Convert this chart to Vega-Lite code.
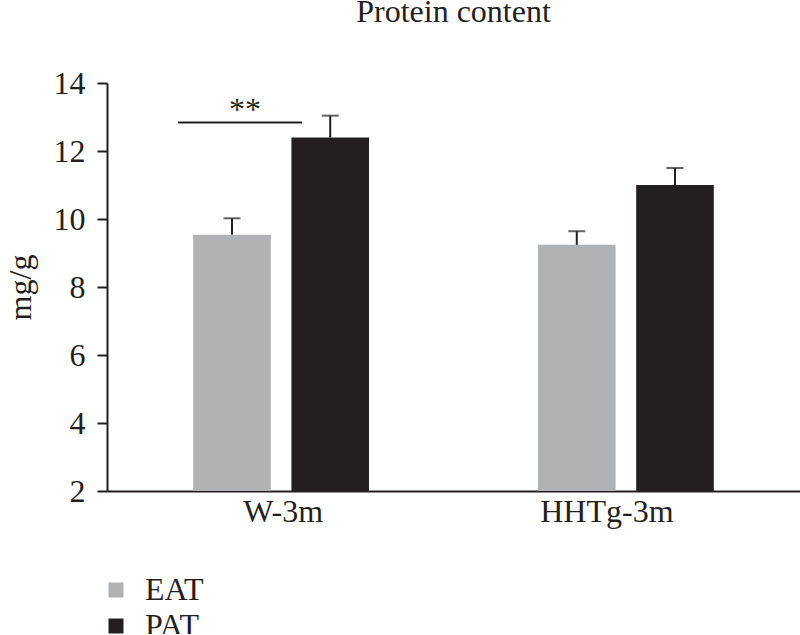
{
  "$schema": "https://vega.github.io/schema/vega-lite/v6.json",
  "width": 693,
  "height": 408,
  "autosize": {"type": "none"},
  "padding": {"left": 107, "top": 83, "right": 0, "bottom": 143},
  "background": "white",
  "title": {
    "text": "Protein content",
    "font": "Liberation Serif",
    "fontSize": 32,
    "fontWeight": "normal",
    "color": "#231f20",
    "anchor": "middle",
    "baseline": "alphabetic",
    "offset": 13
  },
  "config": {
    "view": {"stroke": null},
    "font": "Liberation Serif",
    "axis": {
      "labelFont": "Liberation Serif",
      "labelFontSize": 32,
      "labelColor": "#231f20",
      "domainColor": "#231f20",
      "tickColor": "#231f20",
      "titleFont": "Liberation Serif",
      "titleFontSize": 32,
      "titleFontWeight": "normal",
      "titleColor": "#231f20",
      "grid": false
    },
    "legend": {
      "labelFont": "Liberation Serif",
      "labelFontSize": 32,
      "labelColor": "#231f20"
    }
  },
  "datasets": {
    "bars": [
      {"group": "W-3m", "tissue": "EAT", "value": 9.54, "upper": 10.02},
      {"group": "W-3m", "tissue": "PAT", "value": 12.4, "upper": 13.04},
      {"group": "HHTg-3m", "tissue": "EAT", "value": 9.24, "upper": 9.64},
      {"group": "HHTg-3m", "tissue": "PAT", "value": 11.0, "upper": 11.5}
    ],
    "sig": [
      {"x1": 0.205, "x2": 0.563, "y": 12.84, "label": "**", "xl": 0.398, "yl": 12.92}
    ]
  },
  "resolve": {"scale": {"x": "independent"}, "axis": {"x": "independent"}},
  "layer": [
    {
      "data": {"name": "bars"},
      "layer": [
        {
          "mark": {"type": "bar"},
          "encoding": {
            "x": {
              "field": "group",
              "type": "nominal",
              "sort": ["W-3m", "HHTg-3m"],
              "scale": {"paddingInner": 0.49, "paddingOuter": 0.25},
              "axis": {
                "title": null,
                "labelAngle": 0,
                "ticks": false,
                "domainWidth": 2,
                "labelPadding": 5,
                "labelOffset": {"condition": {"test": "datum.value === 'HHTg-3m'", "value": -19}, "value": 2}
              }
            },
            "xOffset": {
              "field": "tissue",
              "type": "nominal",
              "sort": ["EAT", "PAT"],
              "scale": {"paddingInner": 0.21, "paddingOuter": 0}
            },
            "y": {
              "field": "value",
              "type": "quantitative",
              "scale": {"domain": [2, 14], "nice": false, "zero": false},
              "axis": {
                "values": [2, 4, 6, 8, 10, 12, 14],
                "title": "mg/g",
                "domainWidth": 2,
                "tickWidth": 2,
                "tickSize": 10,
                "labelPadding": 12,
                "titlePadding": 16
              }
            },
            "y2": {"datum": 2},
            "color": {
              "field": "tissue",
              "type": "nominal",
              "scale": {"domain": ["EAT", "PAT"], "range": ["#b1b2b4", "#231f20"]},
              "legend": {
                "title": null,
                "orient": "none",
                "legendX": -7,
                "legendY": 491,
                "direction": "vertical",
                "symbolType": "square",
                "symbolSize": 225,
                "symbolStrokeWidth": 0,
                "labelOffset": 13,
                "rowPadding": 4,
                "padding": 0
              }
            }
          }
        },
        {
          "mark": {"type": "rule", "color": "#231f20", "strokeWidth": 2},
          "encoding": {
            "x": {"field": "group", "type": "nominal", "sort": ["W-3m", "HHTg-3m"]},
            "xOffset": {"field": "tissue", "type": "nominal", "sort": ["EAT", "PAT"]},
            "y": {"field": "value", "type": "quantitative"},
            "y2": {"field": "upper"}
          }
        },
        {
          "mark": {"type": "tick", "color": "#231f20", "thickness": 2, "size": 17, "orient": "horizontal"},
          "encoding": {
            "x": {"field": "group", "type": "nominal", "sort": ["W-3m", "HHTg-3m"]},
            "xOffset": {"field": "tissue", "type": "nominal", "sort": ["EAT", "PAT"]},
            "y": {"field": "upper", "type": "quantitative"}
          }
        }
      ]
    },
    {
      "data": {"name": "sig"},
      "layer": [
        {
          "mark": {"type": "rule", "color": "#231f20", "strokeWidth": 2},
          "encoding": {
            "x": {"field": "x1", "type": "quantitative", "scale": {"domain": [0, 2], "nice": false, "zero": false}, "axis": null},
            "x2": {"field": "x2"},
            "y": {"field": "y", "type": "quantitative"}
          }
        },
        {
          "mark": {"type": "text", "color": "#231f20", "fontSize": 32, "font": "Liberation Serif", "baseline": "alphabetic", "align": "center"},
          "encoding": {
            "x": {"field": "xl", "type": "quantitative", "scale": {"domain": [0, 2], "nice": false, "zero": false}, "axis": null},
            "y": {"field": "yl", "type": "quantitative"},
            "text": {"field": "label"}
          }
        }
      ]
    }
  ]
}
